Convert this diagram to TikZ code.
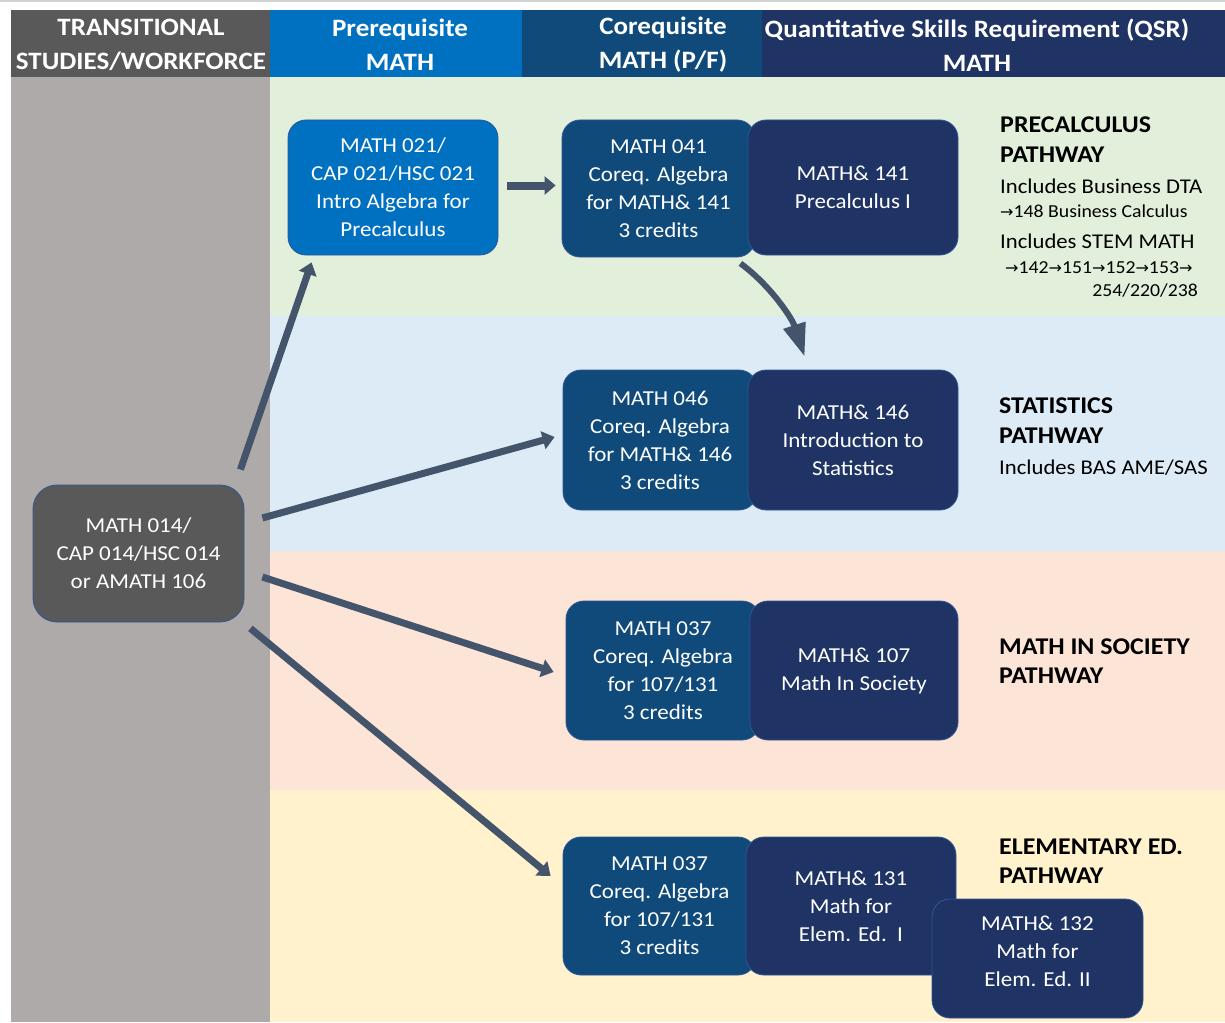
\documentclass[tikz,border=0pt]{standalone}
\usepackage{fontspec}
\setmainfont{Carlito}[FakeStretch=1.08]
\newfontfamily\arrowfont{DejaVu Sans}
\usepackage{tikz}
\usetikzlibrary{positioning}
\usetikzlibrary{calc}
\usetikzlibrary{arrows.meta}
\definecolor{tsgray}{HTML}{595959}
\definecolor{colgray}{HTML}{AEAAAA}
\definecolor{prebl}{HTML}{0070C0}
\definecolor{corebl}{HTML}{0F4A7A}
\definecolor{qsrbl}{HTML}{1F3465}
\definecolor{edgebl}{HTML}{2F5597}
\definecolor{arrowgr}{HTML}{44546A}
\definecolor{bandgreen}{HTML}{E2EFDA}
\definecolor{bandblue}{HTML}{DDEBF7}
\definecolor{bandpeach}{HTML}{FCE4D6}
\definecolor{bandyellow}{HTML}{FFF2CC}
\newcommand{\arr}{{\arrowfont\fontsize{16}{16}\selectfont →}}
\tikzstyle{crs}=[rectangle,rounded corners=18pt,draw=edgebl,line width=0.8pt,text=white,align=center,inner sep=0pt,font=\fontsize{21.3}{28}\selectfont]
\tikzstyle{pre}=[crs,fill=prebl]
\tikzstyle{coreq}=[crs,fill=corebl]
\tikzstyle{qsr}=[crs,fill=qsrbl]
\tikzstyle{hdr}=[text=white,align=center,inner sep=0pt,font=\bfseries\fontsize{25}{34}\selectfont]
\tikzstyle{pwtitle}=[anchor=base west,inner sep=0pt,font=\bfseries\fontsize{24}{30}\selectfont]
\tikzstyle{pwnote}=[anchor=base west,inner sep=0pt,font=\fontsize{21}{26}\selectfont]
\tikzstyle{pwsmall}=[anchor=base west,inner sep=0pt,font=\fontsize{18.3}{22}\selectfont]
\tikzstyle{flow}=[-{Triangle[length=12pt,width=18pt]},line width=7pt,draw=arrowgr]
\begin{document}
\begin{tikzpicture}[x=1pt,y=-1pt]
	\useasboundingbox (0,0) rectangle (1225,1022);
	% header row and coloured bands
	\draw[gray!35,line width=2pt] (0,1) -- (1225,1);
	\fill[tsgray] (11,10) rectangle (270,77);
	\fill[prebl] (270,10) rectangle (522,77);
	\fill[corebl] (522,10) rectangle (762,77);
	\fill[qsrbl] (762,10) rectangle (1225,77);
	\fill[colgray] (11,77) rectangle (270,1022);
	\fill[bandgreen] (270,77) rectangle (1225,316);
	\fill[bandblue] (270,316) rectangle (1225,551);
	\fill[bandpeach] (270,551) rectangle (1225,790);
	\fill[bandyellow] (270,790) rectangle (1225,1022);
	\node[hdr] (htrans) at (141,45) {TRANSITIONAL\\STUDIES/WORKFORCE};
	\node[hdr] (hpre) at (400,45) {Prerequisite\\MATH};
	\node[hdr] (hcoreq) at (663,45) {Corequisite\\MATH (P/F)};
	\node[hdr] (hqsr) at (977,45) {Quantitative Skills Requirement (QSR)\\MATH};
	
	% courses
	\node[crs,fill=tsgray,rounded corners=24pt,minimum width=211pt,minimum height=137pt] (m014) at (138.5,553.5) {MATH 014/\\CAP 014/HSC 014\\or AMATH 106};
	\node[pre,minimum width=210pt,minimum height=135pt] (m021) at (393,187.5) {MATH 021/\\CAP 021/HSC 021\\Intro Algebra for\\Precalculus};
	\node[coreq,minimum width=193pt,minimum height=137pt] (m041) at (658.5,188.5) {MATH 041\\Coreq. Algebra\\for MATH\& 141\\3 credits};
	\node[qsr,minimum width=210pt,minimum height=135pt] (m141) at (853,187.5) {MATH\& 141\\Precalculus I};
	\node[coreq,minimum width=194pt,minimum height=140pt] (m046) at (660,440) {MATH 046\\Coreq. Algebra\\for MATH\& 146\\3 credits};
	\node[qsr,minimum width=210pt,minimum height=140pt] (m146) at (853,440) {MATH\& 146\\Introduction to\\Statistics};
	\node[coreq,minimum width=194pt,minimum height=139pt] (m037a) at (663,670.5) {MATH 037\\Coreq. Algebra\\for 107/131\\3 credits};
	\node[qsr,minimum width=208pt,minimum height=139pt] (m107) at (854,670.5) {MATH\& 107\\Math In Society};
	\node[coreq,minimum width=193pt,minimum height=138pt] (m037b) at (659.5,906) {MATH 037\\Coreq. Algebra\\for 107/131\\3 credits};
	\node[qsr,minimum width=210pt,minimum height=138pt] (m131) at (851,906) {MATH\& 131\\Math for\\Elem. Ed.~~I};
	\node[qsr,minimum width=211pt,minimum height=119pt] (m132) at (1037.5,958.5) {MATH\& 132\\Math for\\Elem. Ed. II\\[-13pt]\mbox{}};
	
	% arrows
	\draw[flow] ($(m014.north east)+(-4,-15)$) -- ($(m021.south west)+(24,7)$);
	\draw[flow] ($(m014.east)+(18,-35.5)$) -- ($(m046.west)+(-8,-3)$);
	\draw[flow] ($(m014.east)+(18,23.5)$) -- ($(m037a.west)+(-12,1.5)$);
	\draw[flow] ($(m014.south east)+(6,6)$) -- ($(m037b.west)+(-12,-30)$);
	\draw[-{Triangle[length=11pt,width=18pt]},line width=8pt,draw=arrowgr] ($(m021.east)+(9,-2)$) -- ($(m041.west)+(-6,-3)$);
	\draw[-{Triangle[length=33pt,width=22pt]},line width=6pt,draw=arrowgr] ($(m041.south east)+(-15,6)$) .. controls (770,285) and (792,318) .. ($(m146.north west)+(57,-13)$);
	
	% pathway texts
	\node[pwtitle] (precalc) at (1000,132) {PRECALCULUS};
	\node[pwtitle] (precalcb) at (1000,162) {PATHWAY};
	\node[pwnote] (busdta) at (1000,193) {Includes Business DTA};
	\node[pwsmall] (buscalc) at (1000,217) {\arr148 Business Calculus};
	\node[pwnote] (stem) at (1000,248) {Includes STEM MATH};
	\node[pwsmall] (stemseq) at (1005,273) {\arr142\arr151\arr152\arr153\arr};
	\node[pwsmall,anchor=base east] (stemend) at (1198,296) {254/220/238};
	\node[pwtitle] (stats) at (999,413) {STATISTICS};
	\node[pwtitle] (statsb) at (999,443) {PATHWAY};
	\node[pwnote] (bas) at (999,474) {Includes BAS AME/SAS};
	\node[pwtitle] (society) at (999,654) {MATH IN SOCIETY};
	\node[pwtitle] (societyb) at (999,683) {PATHWAY};
	\node[pwtitle] (elem) at (999,854) {ELEMENTARY ED.};
	\node[pwtitle] (elemb) at (999,883) {PATHWAY};
\end{tikzpicture}
\end{document}
